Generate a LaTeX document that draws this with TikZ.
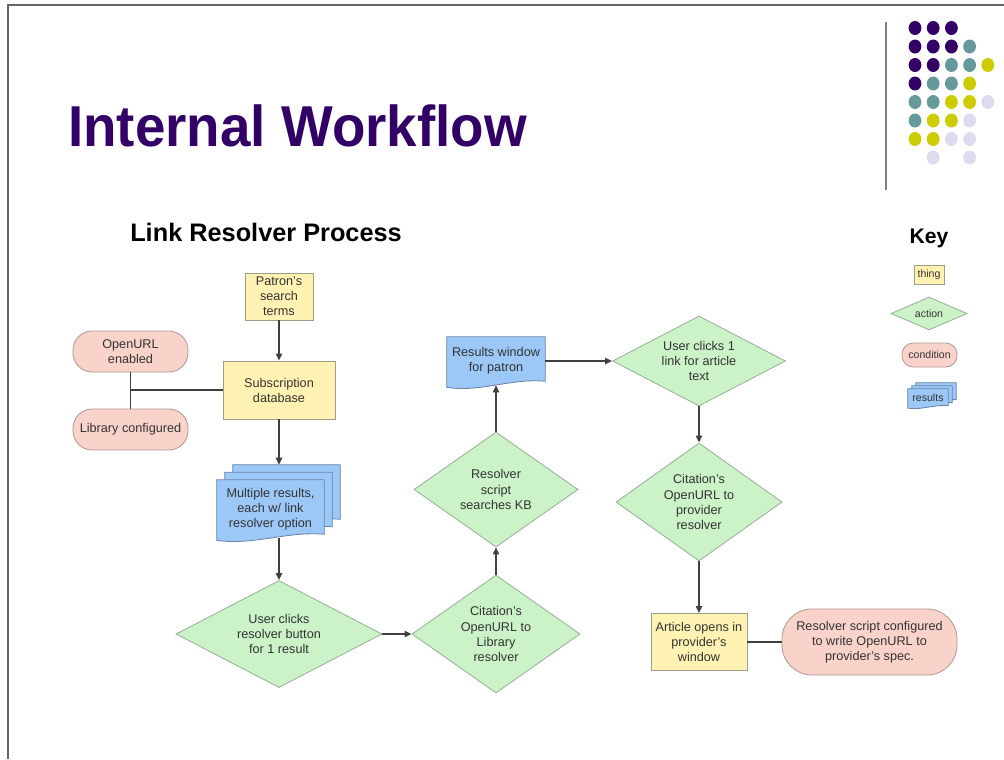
\documentclass[tikz,border=0pt]{standalone}
\usepackage{fontspec}
\setmainfont{Liberation Sans}
\usepackage{xcolor}
\usepackage{tikz}
\usetikzlibrary{arrows.meta,positioning,calc,shapes.geometric,backgrounds}
\definecolor{Plum}{HTML}{330066}
\definecolor{Slate}{HTML}{669999}
\definecolor{Olive}{HTML}{CCCC00}
\definecolor{Lilac}{HTML}{DCDCEE}
\definecolor{ThingFill}{HTML}{FFF2B2}
\definecolor{ThingLine}{HTML}{A09C8A}
\definecolor{ActFill}{HTML}{CCF2C8}
\definecolor{ActLine}{HTML}{99B099}
\definecolor{CondFill}{HTML}{F9D3CA}
\definecolor{CondLine}{HTML}{B09A96}
\definecolor{ResFill}{HTML}{9CC8F8}
\definecolor{ResLine}{HTML}{6A86A8}
\definecolor{Ink}{HTML}{333333}
\definecolor{Wire}{HTML}{404040}
% wavy document outline round a node: name, dx, dy, wave depth
\newcommand{\docshape}[4]{%
  \draw[docline] ($(#1.north west)+(#2,#3)$) -- ($(#1.north east)+(#2,#3)$)
    -- ($(#1.south east)+(#2,#3-#4*0.8)$)
    .. controls ($(#1.south)!0.33!(#1.south east)+(#2,#3-#4*1.5)$)
    and ($(#1.south)!0.33!(#1.south west)+(#2,#3+#4*1.5)$)
    .. ($(#1.south west)+(#2,#3+#4*0.4)$) -- cycle;}

\begin{document}
\begin{tikzpicture}[x=0.025cm,y=-0.025cm,
  every node/.style={font=\fontsize{9}{10.7}\selectfont,align=center,text=Ink,inner sep=0pt},
  keytext/.style={font=\fontsize{7.5}{9}\selectfont},
  thing/.style={rectangle,draw=ThingLine,fill=ThingFill,line width=0.6pt},
  action/.style={diamond,draw=ActLine,fill=ActFill,line width=0.6pt},
  condition/.style={rectangle,rounded corners=#1,draw=CondLine,fill=CondFill,line width=0.6pt},
  condition/.default=0.48cm,
  results/.style={rectangle},
  docline/.style={draw=ResLine,fill=ResFill,line width=0.6pt},
  arr/.style={-{Triangle[length=5pt,width=4.5pt]},draw=Wire,line width=0.9pt},
  link/.style={draw=Wire,line width=0.9pt}
]
\useasboundingbox (0,0) rectangle (1004,759);
% slide frame
\draw[black!60,line width=0.8pt] (1004,5) -- (8,5) -- (8,759);
\node[anchor=base west,font=\fontsize{41}{41}\selectfont\bfseries,text=Plum,xscale=0.95] (title) at (68,146) {Internal Workflow};
\draw[black!50,line width=1.2pt] (886,22) -- (886,190);
\foreach \row [count=\r] in {{Plum,Plum,Plum,none,none},{Plum,Plum,Plum,Slate,none},{Plum,Plum,Slate,Slate,Olive},{Plum,Slate,Slate,Olive,none},{Slate,Slate,Olive,Olive,Lilac},{Slate,Olive,Olive,Lilac,none},{Olive,Olive,Lilac,Lilac,none},{none,Lilac,none,Lilac,none}}
  \foreach \dot [count=\k] in \row
    \fill[fill=\dot] ({915+18.2*(\k-1)},{28+18.5*(\r-1)}) ellipse (6.4 and 7);

\node[anchor=base west,font=\fontsize{18}{18}\selectfont\bfseries,text=black] (proc) at (130,241) {Link Resolver Process};

% flow
\node[thing,minimum width=1.7cm,minimum height=1.175cm] (terms) at (279,296.5) {Patron's\\search\\terms};
\node[thing,minimum width=2.8cm,minimum height=1.45cm] (subdb) at (279,390) {Subscription\\database};
\node[condition,minimum width=2.875cm,minimum height=1.025cm] (oenab) at (130.5,351.5) {OpenURL\\enabled};
\node[condition,minimum width=2.875cm,minimum height=1.025cm] (libcf) at (130.5,429.5) {Library configured};
\node[results,minimum width=2.675cm,minimum height=1.45cm] (mres) at (270.5,509) {Multiple results,\\each w/ link\\resolver option};
\node[action,aspect=2,minimum width=5.15cm,minimum height=2.675cm] (clk) at (279,634) {User clicks\\resolver button\\for 1 result};
\node[action,aspect=1.4,minimum width=4.2cm,minimum height=2.95cm] (cit1) at (496,634) {Citation's\\OpenURL to\\Library\\resolver};
\node[action,aspect=1.4,minimum width=4.1cm,minimum height=2.875cm] (rsk) at (496,489.5) {Resolver\\script\\searches KB};
\node[results,minimum width=2.45cm,minimum height=1.2cm] (rwin) at (496,361) {Results window\\for patron};
\node[action,aspect=2,minimum width=4.325cm,minimum height=2.25cm] (ulnk) at (699,361) {User clicks 1\\link for article\\text};
\node[action,aspect=1.4,minimum width=4.15cm,minimum height=2.95cm] (cit2) at (699,502) {Citation's\\OpenURL to\\provider\\resolver};
\node[thing,minimum width=2.4cm,minimum height=1.425cm] (art) at (699,642) {Article opens in\\provider's\\window};
\node[condition=0.75cm,minimum width=4.375cm,minimum height=1.65cm] (rcfg) at (869.5,642) {Resolver script configured\\to write OpenURL to\\provider's spec.};

% key
\node[font=\fontsize{15}{15}\selectfont\bfseries,text=black] (key) at (929,238) {Key};
\node[thing,keytext,minimum width=0.75cm,minimum height=0.475cm] (kthing) at (929,274.5) {thing};
\node[action,keytext,aspect=2.3,minimum width=1.9cm,minimum height=0.825cm] (kact) at (929,313.5) {action};
\node[condition=0.28cm,keytext,minimum width=1.375cm,minimum height=0.6cm] (kcond) at (929.5,355) {condition};
\node[results,keytext,minimum width=1cm,minimum height=0.45cm] (kres) at (928,398) {results};

\begin{scope}[on background layer]
  \docshape{mres}{16}{-15}{5}
  \docshape{mres}{8}{-7.5}{5}
  \docshape{mres}{0}{0}{5}
  \docshape{rwin}{0}{0}{5}
  \docshape{kres}{8}{-6}{2}
  \docshape{kres}{4}{-3}{2}
  \docshape{kres}{0}{0}{2}
\end{scope}

\coordinate (jn) at (oenab.south |- subdb.west);
\coordinate (mrestop) at ($(mres.north)+(0,-15)$);
\draw[arr] (terms) -- (subdb);
\draw[link] (oenab) -- (libcf);
\draw[link] (jn) -- (subdb.west);
\draw[arr] (subdb.south) -- (subdb.south |- mrestop);
\draw[arr] (clk.north |- mres.south) -- (clk.north);
\draw[arr] (clk) -- (cit1);
\draw[arr] (cit1) -- (rsk);
\draw[arr] (rsk) -- (rwin);
\draw[arr] (rwin) -- (ulnk);
\draw[arr] (ulnk) -- (cit2);
\draw[arr] (cit2) -- (art);
\draw[link] (art) -- (rcfg);
\end{tikzpicture}
\end{document}
